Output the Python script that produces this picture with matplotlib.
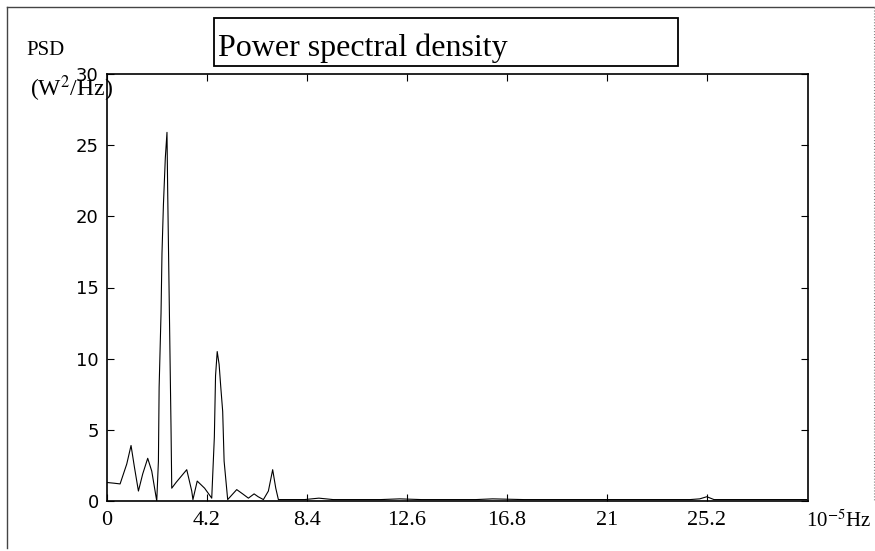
import matplotlib
matplotlib.use('Agg')
import matplotlib.pyplot as plt
from matplotlib.patches import Rectangle
from matplotlib.lines import Line2D

# frequency (10^-5 Hz) and PSD (W^2/Hz)
freq = [0.0, 0.30, 0.55, 0.83, 1.01, 1.15, 1.32, 1.50, 1.71, 1.88, 2.09,
        2.16, 2.19, 2.27, 2.31, 2.37, 2.45, 2.52, 2.55, 2.62, 2.69, 2.72,
        2.90, 3.10, 3.35, 3.56, 3.61, 3.79, 4.10, 4.40, 4.51, 4.56, 4.63,
        4.71, 4.78, 4.86, 4.92, 5.07, 5.45, 5.70, 5.94, 6.18, 6.35, 6.57,
        6.78, 6.96, 7.09, 7.20, 7.60, 8.30, 8.90, 9.50, 10.5, 11.5, 12.3,
        13.2, 14.5, 15.5, 16.2, 17.5, 19.0, 20.5, 21.5, 22.5, 23.5, 24.5,
        24.9, 25.2, 25.5, 26.5, 27.5, 28.5, 29.4]
psd = [1.3, 1.25, 1.2, 2.6, 3.9, 2.4, 0.7, 1.9, 3.0, 2.1, 0.0,
       2.8, 8.0, 13.2, 17.4, 20.8, 24.1, 25.9, 21.7, 13.4, 5.1, 0.9,
       1.3, 1.7, 2.2, 0.7, 0.1, 1.4, 0.9, 0.2, 4.5, 8.8, 10.5,
       9.6, 8.0, 6.3, 2.8, 0.1, 0.8, 0.5, 0.2, 0.5, 0.3, 0.1,
       0.7, 2.2, 0.9, 0.1, 0.1, 0.1, 0.2, 0.1, 0.1, 0.1, 0.15,
       0.1, 0.1, 0.1, 0.15, 0.1, 0.1, 0.1, 0.1, 0.1, 0.1, 0.1,
       0.15, 0.3, 0.1, 0.1, 0.1, 0.1, 0.1]

xticks = [0, 4.2, 8.4, 12.6, 16.8, 21, 25.2]
xticklabels = ['0', '4.2', '8.4', '12.6', '16.8', '21', '25.2']
yticks = [0, 5, 10, 15, 20, 25, 30]

plt.rcParams['mathtext.fontset'] = 'stix'
serif = 'Liberation Serif'

fig = plt.figure(figsize=(8.75, 5.51), dpi=100)
W, H = 875, 551
ax = fig.add_axes([107 / W, 1 - 501 / H, (808 - 107) / W, (501 - 74) / H])

ax.plot(freq, psd, color='black', lw=0.8)
ax.set_xlim(0, 29.45)
ax.set_ylim(0, 30)
ax.set_xticks(xticks)
ax.set_xticklabels(xticklabels, fontfamily=serif, fontsize=16)
ax.set_yticks(yticks)
ax.set_yticklabels([str(v) for v in yticks], fontfamily='DejaVu Sans', fontsize=13)
ax.tick_params(direction='in', length=5, top=True, right=True, width=0.8)
ax.tick_params(axis='x', pad=7)
ax.tick_params(axis='y', pad=6)
for s in ax.spines.values():
    s.set_linewidth(1.2)

# title in a box
fig.patches.append(Rectangle((214 / W, 1 - 66 / H), (678 - 214) / W, (66 - 18) / H,
                             transform=fig.transFigure, fill=False, lw=1.3, ec='black'))
fig.text(218 / W, 1 - 56 / H, 'Power spectral density', fontfamily=serif,
         fontsize=23, va='baseline', ha='left')

# axis labels
fig.text(26 / W, 1 - 55 / H, 'PSD', fontfamily=serif, fontsize=15, va='baseline')
fig.text(30 / W, 1 - 96 / H, '(W$^2$/Hz)', fontfamily=serif, fontsize=17, va='baseline')
fig.text(806 / W, 1 - 527 / H, '10$^{-5}$Hz', fontfamily=serif, fontsize=15, va='baseline')

# outer frame of the scanned figure
fig.lines.append(Line2D([7 / W, 7 / W], [1 - 548 / H, 1 - 7 / H], transform=fig.transFigure,
                        color='#444444', lw=1))
fig.lines.append(Line2D([7 / W, 874 / W], [1 - 7 / H, 1 - 7 / H], transform=fig.transFigure,
                        color='#444444', lw=1))
fig.lines.append(Line2D([874 / W, 874 / W], [1 - 7 / H, 1 - 500 / H], transform=fig.transFigure,
                        color='#888888', lw=0.8, ls=':'))

fig.savefig('out.png', dpi=100)
